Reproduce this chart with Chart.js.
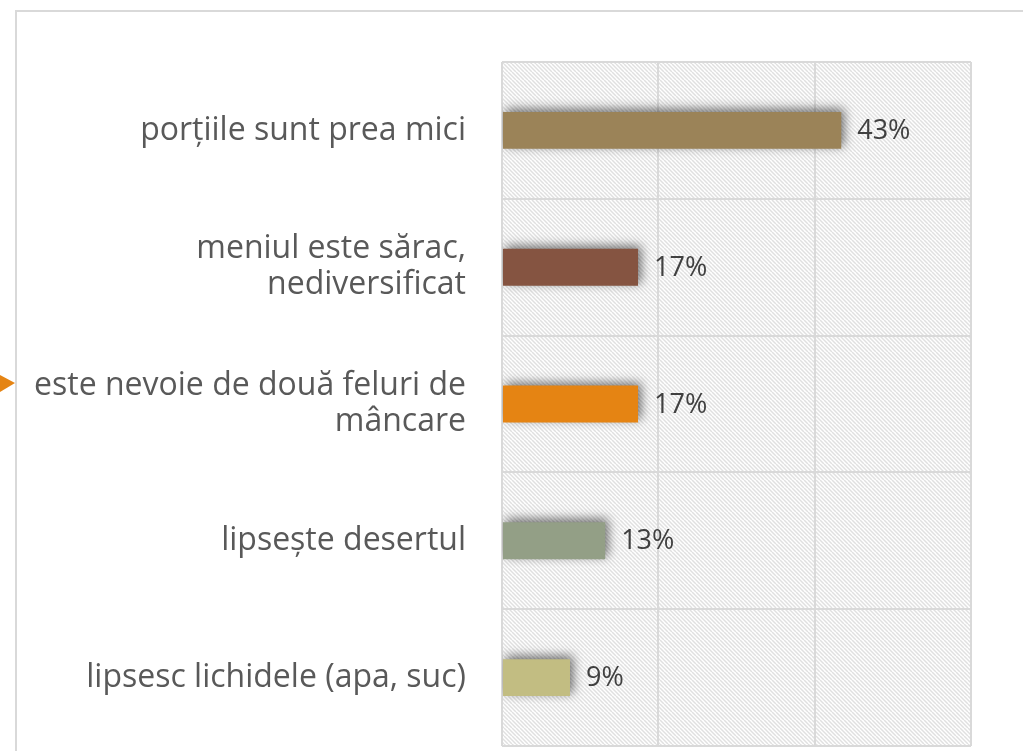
<!DOCTYPE html>
<html lang="ro">
<head>
  <meta charset="UTF-8">
  <title>Motive de nemulțumire</title>
  <script src="https://cdn.jsdelivr.net/npm/chart.js"></script>
  <style>
    html, body { margin: 0; padding: 0; background: #fff; }
    #wrap { position: relative; width: 1023px; height: 751px; }
  </style>
</head>
<body>
  <div id="wrap"><canvas id="chart" width="1023" height="751"></canvas></div>

  <script>
    const categories = [
      'porțiile sunt prea mici',
      ['meniul este sărac,', 'nediversificat'],
      ['este nevoie de două feluri de', 'mâncare'],
      'lipsește desertul',
      'lipsesc lichidele (apa, suc)'
    ];
    // shares; labels show them rounded
    const values = [0.434, 0.174, 0.174, 0.132, 0.087];
    const barColors = ['#9b8358', '#855441', '#e58413', '#939f86', '#c2bd82'];
    const xTicks = [0, 0.2, 0.4, 0.6];

    const FONT = '"Open Sans", sans-serif';

    function makeHatch() {
      const c = document.createElement('canvas');
      c.width = 8; c.height = 8;
      const g = c.getContext('2d');
      g.fillStyle = '#ffffff';
      g.fillRect(0, 0, 8, 8);
      g.strokeStyle = '#e0e0e0';
      g.lineWidth = 1.5;
      for (let k = -8; k <= 16; k += 4) {
        g.beginPath();
        g.moveTo(k, 0);
        g.lineTo(k + 8, 8);
        g.stroke();
      }
      return g.createPattern(c, 'repeat');
    }

    const decor = {
      id: 'decor',
      beforeDraw(chart) {
        const { ctx, chartArea: a } = chart;
        ctx.save();
        ctx.fillStyle = makeHatch();
        ctx.fillRect(a.left, a.top, a.right - a.left, a.bottom - a.top);
        ctx.restore();
      },
      beforeDatasetsDraw(chart) {
        const ctx = chart.ctx;
        ctx.save();
        ctx.shadowColor = 'rgba(0,0,0,0.55)';
        ctx.shadowBlur = 10;
        ctx.shadowOffsetX = 3;
        ctx.shadowOffsetY = -3;
      },
      afterDatasetsDraw(chart) {
        const ctx = chart.ctx;
        ctx.restore();
        ctx.save();
        ctx.font = '27px ' + FONT;
        ctx.fillStyle = '#404040';
        ctx.textBaseline = 'middle';
        chart.getDatasetMeta(0).data.forEach((bar, i) => {
          ctx.fillText(Math.round(values[i] * 100) + '%', bar.x + 16, bar.y + 1);
        });
        ctx.restore();
      },
      afterDraw(chart) {
        const ctx = chart.ctx;
        ctx.save();
        // outer frame
        ctx.strokeStyle = '#d9d9d9';
        ctx.lineWidth = 2;
        ctx.beginPath();
        ctx.moveTo(16, 760);
        ctx.lineTo(16, 11);
        ctx.lineTo(1030, 11);
        ctx.stroke();
        // orange marker
        ctx.fillStyle = '#e58413';
        ctx.beginPath();
        ctx.moveTo(0, 375);
        ctx.lineTo(15, 383);
        ctx.lineTo(0, 392);
        ctx.closePath();
        ctx.fill();
        ctx.restore();
      }
    };

    new Chart(document.getElementById('chart'), {
      type: 'bar',
      data: {
        labels: categories,
        datasets: [{
          data: values,
          backgroundColor: barColors,
          borderWidth: 0,
          categoryPercentage: 0.54,
          barPercentage: 0.5
        }]
      },
      options: {
        indexAxis: 'y',
        responsive: false,
        animation: false,
        layout: { padding: { top: 62, right: 52, bottom: 5, left: 0 } },
        plugins: { legend: { display: false }, tooltip: { enabled: false } },
        scales: {
          x: {
            min: 0,
            max: 0.6,
            afterBuildTicks(scale) { scale.ticks = xTicks.map(v => ({ value: v })); },
            afterFit(scale) {
              scale.height = 0;
              scale.paddingLeft = 0;
              scale.paddingRight = 0;
            },
            ticks: { display: false },
            grid: { color: '#d9d9d9', lineWidth: 2, drawTicks: false },
            border: { display: false }
          },
          y: {
            afterFit(scale) {
              scale.width = 502;
              scale.paddingTop = 0;
              scale.paddingBottom = 0;
            },
            ticks: {
              color: '#595959',
              font: { family: FONT, size: 32, lineHeight: 1.13 },
              padding: 36,
              autoSkip: false
            },
            grid: { color: '#d9d9d9', lineWidth: 2, offset: true, drawTicks: false },
            border: { display: false }
          }
        }
      },
      plugins: [decor]
    });
  </script>
</body>
</html>
